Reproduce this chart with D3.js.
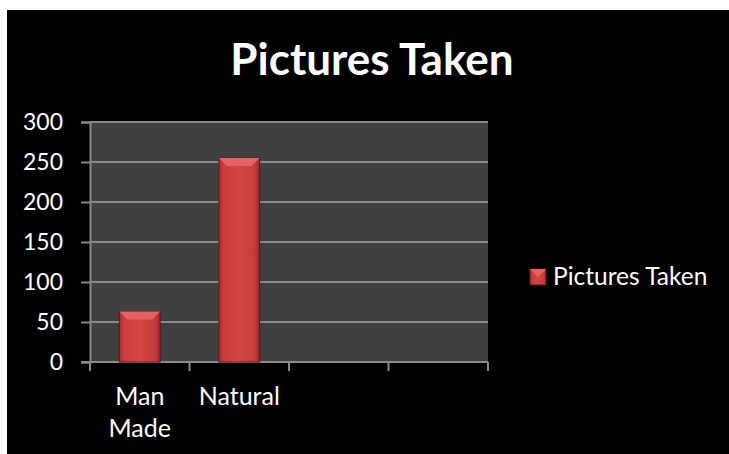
<!DOCTYPE html>
<html>
<head>
<meta charset="UTF-8">
<title>Pictures Taken</title>
<script src="https://cdn.jsdelivr.net/npm/d3@7"></script>
<style type="text/css">
body { margin: 0; background: #ffffff; }
svg text { font-family: Lato, "Open Sans", sans-serif; fill: #ffffff; }
</style>
</head>
<body>
<div class="chart"></div>
<script>
// chart data
var categories = ["Man Made", "Natural", "", ""];
var pictures   = [63, 255, null, null];
var yTicks     = [0, 50, 100, 150, 200, 250, 300];
var seriesName = "Pictures Taken";

var width = 729, height = 454;
var plot = {left: 90, right: 488, top: 122, bottom: 362};

var svg = d3.select(".chart")
    .append("svg")
    .attr("width", width)
    .attr("height", height);

var defs = svg.append("defs");
var grad = defs.append("linearGradient")
    .attr("id", "barGrad")
    .attr("x1", "0%").attr("x2", "100%").attr("y1", "0%").attr("y2", "0%");
grad.append("stop").attr("offset", "0%").attr("stop-color", "#a62d2f");
grad.append("stop").attr("offset", "12%").attr("stop-color", "#c93d3e");
grad.append("stop").attr("offset", "50%").attr("stop-color", "#d54646");
grad.append("stop").attr("offset", "88%").attr("stop-color", "#c53b3c");
grad.append("stop").attr("offset", "100%").attr("stop-color", "#9c2829");

// black chart area
svg.append("rect")
    .attr("x", 7).attr("y", 10)
    .attr("width", width - 7).attr("height", height - 10)
    .attr("fill", "#000000");

var x = d3.scaleBand()
    .domain(d3.range(categories.length))
    .range([plot.left, plot.right])
    .padding(0);

var y = d3.scaleLinear()
    .domain([0, 300])
    .range([plot.bottom, plot.top]);

// plot background
svg.append("rect")
    .attr("x", plot.left).attr("y", plot.top)
    .attr("width", plot.right - plot.left)
    .attr("height", plot.bottom - plot.top)
    .attr("fill", "#404040");

// gridlines
svg.append("g")
    .selectAll("line")
    .data(yTicks.filter(function (d) { return d > 0; }))
    .enter()
    .append("line")
    .attr("x1", plot.left).attr("x2", plot.right)
    .attr("y1", function (d) { return y(d); })
    .attr("y2", function (d) { return y(d); })
    .attr("stroke", "#8a8a8a")
    .attr("stroke-width", 2);

// y axis
var yAxis = svg.append("g")
    .attr("transform", "translate(" + plot.left + ",0)")
    .call(d3.axisLeft(y).tickValues(yTicks).tickSize(9).tickPadding(18));
yAxis.select(".domain").attr("stroke", "#8a8a8a").attr("stroke-width", 2);
yAxis.selectAll(".tick line").attr("stroke", "#8a8a8a").attr("stroke-width", 2);
yAxis.selectAll(".tick text")
    .attr("font-size", "23px")
    .attr("fill", "#ffffff")
    .attr("font-family", "Lato, sans-serif");

// x axis: labels at band centres, ticks at band edges
var xAxis = svg.append("g")
    .attr("transform", "translate(0," + plot.bottom + ")")
    .call(d3.axisBottom(x).tickSize(0).tickPadding(25)
        .tickFormat(function (i) { return categories[i]; }));
xAxis.select(".domain").remove();
xAxis.append("line")
    .attr("x1", plot.left - 9).attr("x2", plot.right)
    .attr("stroke", "#8a8a8a").attr("stroke-width", 2);
xAxis.selectAll(".edge")
    .data(d3.range(categories.length + 1))
    .enter()
    .append("line")
    .attr("class", "edge")
    .attr("x1", function (i) { return plot.left + i * x.step(); })
    .attr("x2", function (i) { return plot.left + i * x.step(); })
    .attr("y2", 9)
    .attr("stroke", "#8a8a8a").attr("stroke-width", 2);

xAxis.selectAll(".tick text")
    .attr("font-size", "25px")
    .attr("fill", "#ffffff")
    .attr("font-family", "Lato, sans-serif")
    .each(function (i) {
        var words = categories[i].split(" ");
        var t = d3.select(this).text(null);
        words.forEach(function (w, k) {
            t.append("tspan")
                .attr("x", 0)
                .attr("dy", k === 0 ? "0.71em" : "32px")
                .text(w);
        });
    })
    .attr("dy", null);

// bars with bevel
var bw = x.bandwidth() * 0.41;
var bevel = 8;
var bars = svg.append("g")
    .selectAll("g")
    .data(pictures.map(function (v, i) { return {i: i, v: v}; })
        .filter(function (d) { return d.v != null; }))
    .enter()
    .append("g");

bars.append("rect")
    .attr("x", function (d) { return x(d.i) + (x.bandwidth() - bw) / 2; })
    .attr("y", function (d) { return y(d.v); })
    .attr("width", bw)
    .attr("height", function (d) { return y(0) - y(d.v); })
    .attr("fill", "url(#barGrad)")
    .attr("stroke", "#5e1718")
    .attr("stroke-width", 1);

bars.append("path")
    .attr("d", function (d) {
        var x0 = x(d.i) + (x.bandwidth() - bw) / 2, x1 = x0 + bw, y0 = y(d.v);
        return "M" + x0 + "," + y0 + "L" + x1 + "," + y0 +
            "L" + (x1 - bevel) + "," + (y0 + bevel) + "L" + (x0 + bevel) + "," + (y0 + bevel) + "Z";
    })
    .attr("fill", "#e36262");

// title
svg.append("text")
    .attr("x", 372).attr("y", 75)
    .attr("text-anchor", "middle")
    .attr("font-size", "44px")
    .attr("font-weight", "bold")
    .text("Pictures Taken");

// legend
var legend = svg.append("g").attr("transform", "translate(530,269)");
legend.append("rect")
    .attr("width", 16).attr("height", 16)
    .attr("fill", "url(#barGrad)")
    .attr("stroke", "#5e1718");
legend.append("path")
    .attr("d", "M0,0L16,0L8,8Z")
    .attr("fill", "#e36262");
legend.append("text")
    .attr("x", 23).attr("y", 16)
    .attr("font-size", "24.5px")
    .text(seriesName);
</script>
</body>
</html>
